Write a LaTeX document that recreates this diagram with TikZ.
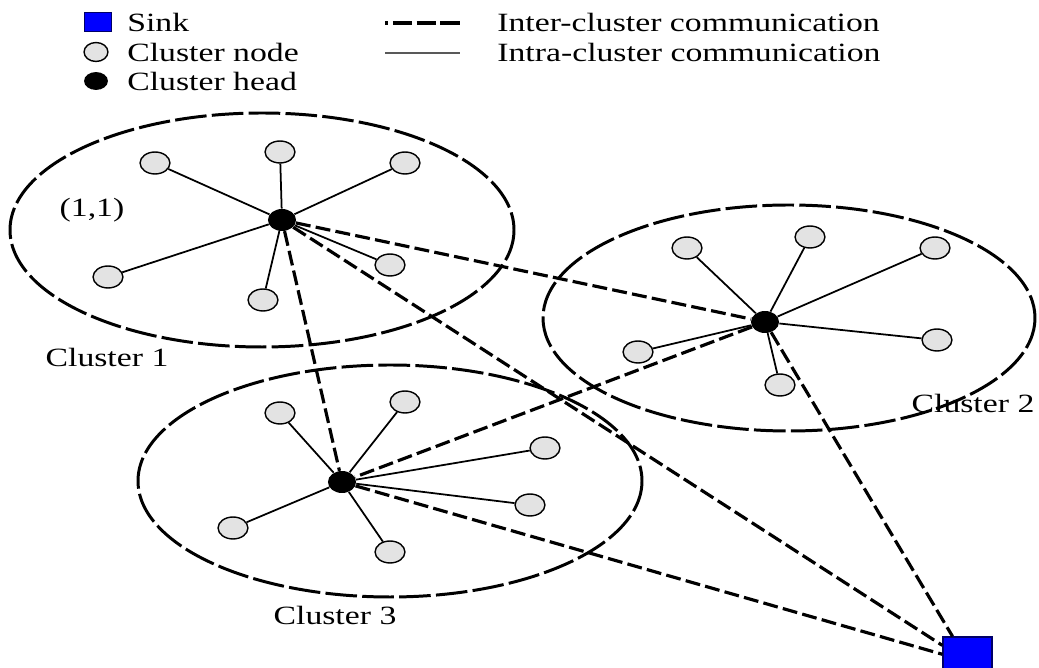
\documentclass[tikz,border=0pt]{standalone}
\usepackage{fontspec}
\setmainfont{Liberation Serif}[FakeStretch=1.28]
\usetikzlibrary{shapes.geometric}

\tikzset{
  member/.style={ellipse, draw, line width=0.8pt, fill=gray!22, minimum width=17pt, minimum height=12.5pt, inner sep=0pt},
  head/.style={ellipse, fill=black, minimum width=16pt, minimum height=12.5pt, inner sep=0pt},
  sink/.style={rectangle, draw=blue!40!black, fill=blue, line width=0.8pt, minimum width=27.8pt, minimum height=27.8pt, inner sep=0pt},
  ring/.style={line width=1.7pt, dash pattern=on 18pt off 3pt},
  inter/.style={line width=1.8pt, dash pattern=on 8.5pt off 3pt},
  intra/.style={line width=1pt},
  lbl/.style={font=\fontsize{15}{17}\selectfont, inner sep=0pt}
}

\begin{document}
\begin{tikzpicture}[x=0.02cm, y=-0.02cm]
    \useasboundingbox (0,0) rectangle (1039,668);

    % Legend
    \node[sink, minimum width=15.3pt, minimum height=10.8pt] (lsink) at (98,22) {};
    \node[member, minimum width=13.6pt, minimum height=10.8pt] (lnode) at (96,52) {};
    \node[head, minimum width=13.6pt, minimum height=10.2pt] (lhead) at (96,81) {};
    \node[lbl, anchor=west] (lsinktxt) at (127,22) {Sink};
    \node[lbl, anchor=west] (lnodetxt) at (127,52) {Cluster node};
    \node[lbl, anchor=west] (lheadtxt) at (127,81) {Cluster head};

    \coordinate (interA) at (385,23);
    \coordinate (interB) at (460,23);
    \coordinate (intraA) at (385,53);
    \coordinate (intraB) at (460,53);
    \node[lbl, anchor=west] (intertxt) at (497,22) {Inter-cluster communication};
    \node[lbl, anchor=west] (intratxt) at (497,52) {Intra-cluster communication};
    \draw[line width=1.8pt, dash pattern=on 1.5pt off 3pt on 11pt off 2.5pt on 11pt off 2.5pt on 11pt off 10pt] (interA) -- (interB);
    \draw[line width=0.9pt, gray!70!black] (intraA) -- (intraB);

    % Clusters
    \draw[ring] (262,230) ellipse [x radius=252, y radius=117];
    \draw[ring] (789,318) ellipse [x radius=246, y radius=113];
    \draw[ring] (390,481) ellipse [x radius=252, y radius=116];

    \node[lbl] (c1txt) at (107,357) {Cluster 1};
    \node[lbl] (c2txt) at (973,403) {Cluster 2};
    \node[lbl] (c3txt) at (335,615) {Cluster 3};
    \node[lbl] (pos11) at (92,210) {(1,1)};

    % Define nodes
    \node[head] (h1) at (282,220) {};
    \node[head] (h2) at (765,322) {};
    \node[head] (h3) at (342,482) {};
    \node[sink] (bs) at (967.5,661.5) {};

    \node[member] (a1) at (155,163) {};
    \node[member] (a2) at (280,152) {};
    \node[member] (a3) at (405,163) {};
    \node[member] (a4) at (108,277) {};
    \node[member] (a5) at (263,300) {};
    \node[member] (a6) at (390,265) {};

    \node[member] (b1) at (687,248) {};
    \node[member] (b2) at (810,237) {};
    \node[member] (b3) at (935,248) {};
    \node[member] (b4) at (638,352) {};
    \node[member] (b5) at (937,340) {};
    \node[member] (b6) at (780,385) {};

    \node[member] (d1) at (280,413) {};
    \node[member] (d2) at (405,402) {};
    \node[member] (d3) at (545,448) {};
    \node[member] (d4) at (233,528) {};
    \node[member] (d5) at (390,552) {};
    \node[member] (d6) at (530,505) {};

    % Draw edges
    \draw[inter] (h1) -- (h2);
    \draw[inter] (h1) -- (h3);
    \draw[inter] (h1) -- (bs);
    \draw[inter] (h2) -- (h3);
    \draw[inter] (h2) -- (bs);
    \draw[inter] (h3) -- (bs);

    \draw[intra] (h1) -- (a1);
    \draw[intra] (h1) -- (a2);
    \draw[intra] (h1) -- (a3);
    \draw[intra] (h1) -- (a4);
    \draw[intra] (h1) -- (a5);
    \draw[intra] (h1) -- (a6);

    \draw[intra] (h2) -- (b1);
    \draw[intra] (h2) -- (b2);
    \draw[intra] (h2) -- (b3);
    \draw[intra] (h2) -- (b4);
    \draw[intra] (h2) -- (b5);
    \draw[intra] (h2) -- (b6);

    \draw[intra] (h3) -- (d1);
    \draw[intra] (h3) -- (d2);
    \draw[intra] (h3) -- (d3);
    \draw[intra] (h3) -- (d4);
    \draw[intra] (h3) -- (d5);
    \draw[intra] (h3) -- (d6);
\end{tikzpicture}
\end{document}
